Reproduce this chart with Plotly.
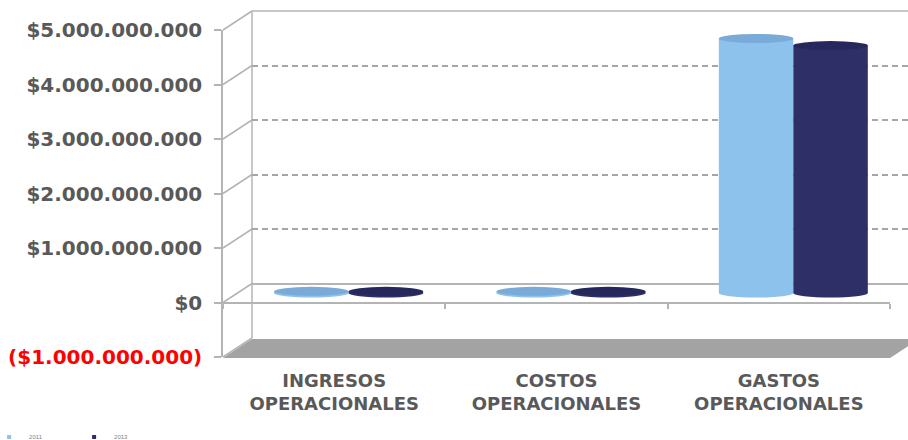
import plotly.graph_objects as go

# ---------------- data ----------------
categories = ["INGRESOS<br>OPERACIONALES", "COSTOS<br>OPERACIONALES", "GASTOS<br>OPERACIONALES"]
series_names = ["2011", "2013"]
values_2011 = [30_000_000, 30_000_000, 4_670_000_000]
values_2013 = [30_000_000, 30_000_000, 4_540_000_000]
y_tick_values = [-1e9, 0, 1e9, 2e9, 3e9, 4e9, 5e9]
y_tick_labels = ["<span style='color:#FF0000'>($1.000.000.000)</span>", "$0", "$1.000.000.000",
                 "$2.000.000.000", "$3.000.000.000", "$4.000.000.000", "$5.000.000.000"]
back_grid_values = [1e9, 2e9, 3e9, 4e9]
colors = {"2011": "#8CC2EC", "2013": "#2E2F66"}
cap_colors = {"2011": "#7AAAD8", "2013": "#26275A"}
y_range = [-1e9, 5e9]

# ---------------- geometry (pixels) ----------------
W, H = 908, 440
def fx(p):
    return p / W
def fy(p):
    return 1 - p / H

XF0, XF1, YF0, YF1 = 223, 890, 30, 357          # front frame
DXB, DYB = 29, -19                               # back wall offset
DXM, DYM = 14.5, -9.5                            # bars at mid-depth
LINE = "#B4B4B4"
BARGAP = 0.33
PX_PER_UNIT = (YF1 - YF0) / (y_range[1] - y_range[0])
CAP_HALF = 4.5 / PX_PER_UNIT                     # half height of cylinder caps, data units

fig = go.Figure()

# front frame subplot (x, y): carries tick labels
fig.add_trace(go.Scatter(x=categories, y=[None] * 3, xaxis="x", yaxis="y",
                         showlegend=False, hoverinfo="skip"))
# back wall subplot (x2, y2): dashed gridlines
fig.add_trace(go.Scatter(x=[0, 1], y=[None, None], xaxis="x2", yaxis="y2",
                         showlegend=False, hoverinfo="skip"))
# bars subplot (x3, y3)
for name, vals in zip(series_names, [values_2011, values_2013]):
    fig.add_trace(go.Bar(x=categories, y=vals, name=name, xaxis="x3", yaxis="y3",
                         marker=dict(color=colors[name], line=dict(width=0)),
                         showlegend=False))
    fig.add_trace(go.Scatter(x=[None], y=[None], mode="markers", name=name,
                             xaxis="x3", yaxis="y3",
                             marker=dict(symbol="square", size=4, color=colors[name])))

tickfont = dict(family="DejaVu Sans", size=20, color="#595959", weight="bold")

fig.update_layout(
    width=W, height=H,
    margin=dict(l=0, r=0, t=0, b=0, autoexpand=False),
    paper_bgcolor="white",
    plot_bgcolor="rgba(0,0,0,0)",
    barmode="group", bargap=BARGAP, bargroupgap=0,
    showlegend=True,
    legend=dict(orientation="h", x=-0.012, y=fy(437), xanchor="left", yanchor="middle",
                font=dict(family="Liberation Sans", size=6, color="#808080"),
                itemwidth=30, entrywidth=40, entrywidthmode="pixels",
                bgcolor="rgba(0,0,0,0)"),
    xaxis=dict(domain=[fx(XF0), fx(XF1)], type="category", categoryarray=categories,
               range=[-0.5, 2.5], anchor="free", position=fy(YF1 - (YF1 - YF0) / 6),
               showline=False, showgrid=False, zeroline=False, automargin=False,
               ticks="outside", tickson="boundaries", ticklen=5, tickcolor=LINE, tickwidth=1.5,
               ticklabelstandoff=65,
               tickfont=dict(family="DejaVu Sans", size=18, color="#595959", weight="bold")),
    yaxis=dict(domain=[fy(YF1), fy(YF0)], range=y_range, anchor="x", automargin=False,
               tickvals=y_tick_values, ticktext=y_tick_labels,
               tickfont=tickfont, ticklabelstandoff=8,
               showline=True, linecolor=LINE, linewidth=1.5,
               ticks="outside", ticklen=7, tickcolor=LINE, tickwidth=1.5,
               showgrid=False, zeroline=True, zerolinecolor=LINE, zerolinewidth=1.5),
    xaxis2=dict(domain=[fx(XF0 + DXB), 1.0], range=[0, 1], anchor="y2",
                visible=False),
    yaxis2=dict(domain=[fy(YF1 + DYB), fy(YF0 + DYB)], range=y_range, anchor="x2",
                tickvals=back_grid_values, showticklabels=False, ticks="",
                showline=False, showgrid=True, gridcolor="#A6A6A6", gridwidth=1.5,
                griddash="6px,4px",
                zeroline=True, zerolinecolor=LINE, zerolinewidth=1.5),
    xaxis3=dict(domain=[fx(XF0 + DXM), fx(XF1 + DXM)], type="category",
                categoryarray=categories, range=[-0.5, 2.5], anchor="y3", visible=False),
    yaxis3=dict(domain=[fy(YF1 + DYM), fy(YF0 + DYM)], range=y_range, anchor="x3",
                visible=False),
)

# ---------------- 3D frame decoration ----------------
shapes = []
XB0 = XF0 + DXB
yr_floor = YF1 + 1 + (W - XF1) * DYB / DXB
floor_path = (f"M {fx(XF0)} {fy(YF1 + 1)} L {fx(XB0)} {fy(YF1 + 1 + DYB)} "
              f"L {fx(W)} {fy(YF1 + 1 + DYB)} L {fx(W)} {fy(yr_floor)} "
              f"L {fx(XF1)} {fy(YF1 + 1)} Z")
shapes.append(dict(type="path", xref="paper", yref="paper", path=floor_path,
                   fillcolor="#A3A3A3", line=dict(width=0), layer="below"))
shapes.append(dict(type="line", xref="paper", yref="paper",
                   x0=fx(XB0), x1=fx(XB0), y0=fy(YF0 + DYB), y1=fy(YF1 + DYB),
                   line=dict(color=LINE, width=1.5), layer="below"))
shapes.append(dict(type="line", xref="paper", yref="paper",
                   x0=fx(XB0), x1=fx(W), y0=fy(YF0 + DYB), y1=fy(YF0 + DYB),
                   line=dict(color=LINE, width=1.5), layer="below"))
for i in range(len(y_tick_values)):
    yp = YF1 - i * (YF1 - YF0) / (len(y_tick_values) - 1)
    shapes.append(dict(type="line", xref="paper", yref="paper",
                       x0=fx(XF0), x1=fx(XB0), y0=fy(yp), y1=fy(yp + DYB),
                       line=dict(color=LINE, width=1.5), layer="below"))

# cylinder caps (bottom + top ellipses) in bar-axis coordinates
bar_w = (1 - BARGAP) / 2
for s, (name, vals) in enumerate(zip(series_names, [values_2011, values_2013])):
    for ci, v in enumerate(vals):
        cx = ci - (1 - BARGAP) / 2 + bar_w * (s + 0.5)
        shapes.append(dict(type="circle", xref="x3", yref="y3",
                           x0=cx - bar_w / 2, x1=cx + bar_w / 2,
                           y0=-CAP_HALF, y1=CAP_HALF,
                           fillcolor=colors[name], line=dict(width=0), layer="above"))
        shapes.append(dict(type="circle", xref="x3", yref="y3",
                           x0=cx - bar_w / 2, x1=cx + bar_w / 2,
                           y0=v - CAP_HALF, y1=v + CAP_HALF,
                           fillcolor=cap_colors[name], line=dict(width=0), layer="above"))
fig.update_layout(shapes=shapes)

fig.write_html("out.html")
